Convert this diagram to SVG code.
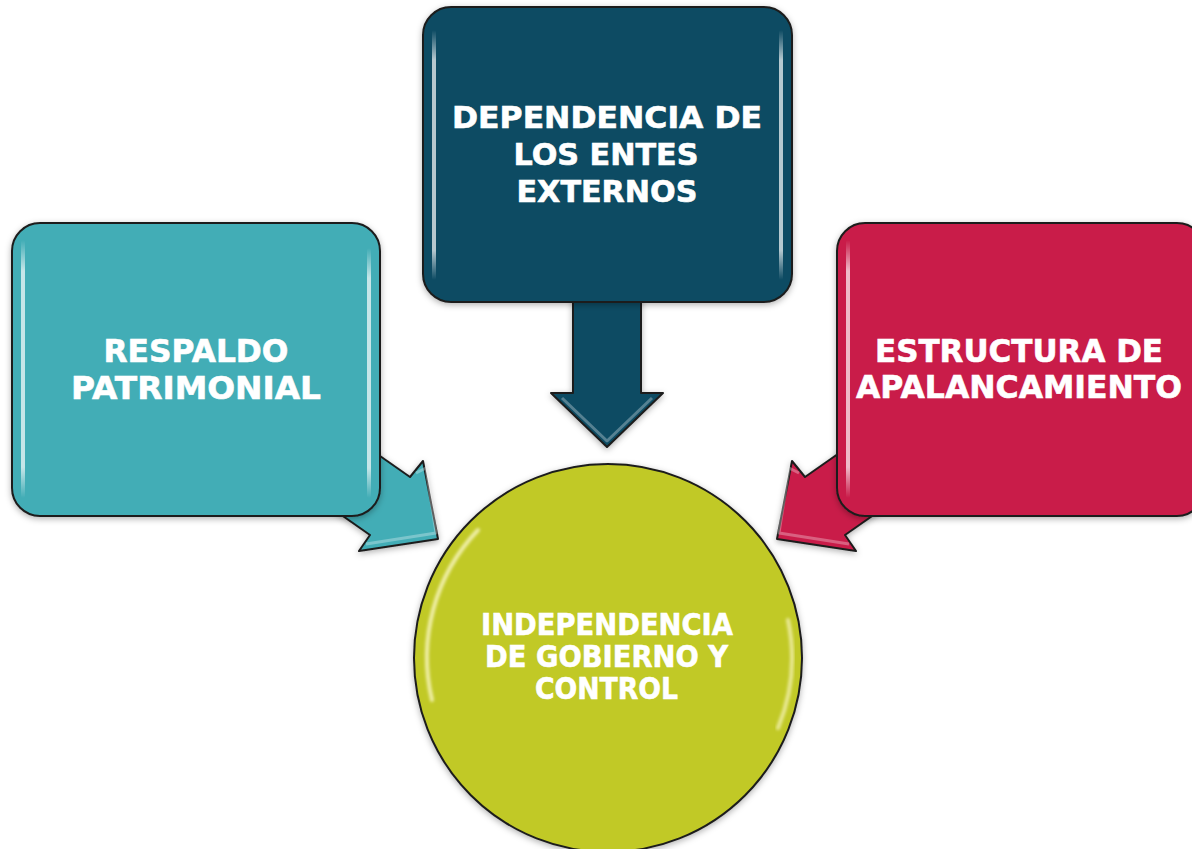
<svg xmlns="http://www.w3.org/2000/svg" width="1192" height="849" viewBox="0 0 1192 849">
  <defs>
    <filter id="shadow" x="-10%" y="-10%" width="120%" height="120%">
      <feDropShadow dx="0" dy="2" stdDeviation="3" flood-color="#000" flood-opacity="0.3"/>
    </filter>
    <filter id="glow" x="-20%" y="-20%" width="140%" height="140%">
      <feGaussianBlur stdDeviation="1.5"/>
    </filter>
    <linearGradient id="vstrip" x1="0" y1="0" x2="0" y2="1">
      <stop offset="0" stop-color="#fff" stop-opacity="0"/>
      <stop offset="0.12" stop-color="#fff" stop-opacity="0.7"/>
      <stop offset="0.88" stop-color="#fff" stop-opacity="0.7"/>
      <stop offset="1" stop-color="#fff" stop-opacity="0"/>
    </linearGradient>
  </defs>
  <style>
    .shape { stroke: #1c1c1c; stroke-width: 2; stroke-linejoin: round; filter: url(#shadow); }
    .teal { fill: #42ADB6; }
    .navy { fill: #0A4C63; }
    .crimson { fill: #C91B48; }
    .lime { fill: #C1C925; }
    .strip { fill: url(#vstrip); }
    .bevel { fill: none; stroke: #fff; stroke-opacity: 0.3; stroke-width: 3; stroke-linejoin: round; }
    .arc { fill: none; stroke: #fffbd0; stroke-width: 4; stroke-linecap: round; filter: url(#glow); }
    .lbl { font-family: "DejaVu Sans", Verdana, sans-serif; font-weight: bold; fill: #ffffff; stroke: #ffffff; stroke-width: 0.6; text-anchor: middle; }
    .f30 { font-size: 30px; }
    .f32 { font-size: 32px; }
  </style>
  <rect width="1192" height="849" fill="#ffffff"/>

  <g id="connectors">
    <g id="arrow-left">
      <polygon class="shape teal" points="330,421 410,477 423,461 438,539 359,551 370,535 290,479"/>
      <polyline class="bevel" points="416,473 426,468 436,533 366,544"/>
    </g>
    <g id="arrow-top">
      <polygon class="shape navy" points="573,290 641,290 641,393 663,393 607,447 551,393 573,393"/>
      <polyline class="bevel" points="562,398 607,441 652,398"/>
    </g>
    <g id="arrow-right">
      <polygon class="shape crimson" points="885,421 805,477 792,461 777,539 856,551 845,535 925,479"/>
      <polyline class="bevel" points="799,473 789,468 779,533 849,544"/>
    </g>
  </g>

  <g id="node-dependencia">
    <rect class="shape navy" x="423" y="7" width="369" height="295" rx="28"/>
    <rect class="strip" x="432" y="30" width="4" height="250" rx="2"/>
    <rect class="strip" x="779" y="30" width="4" height="250" rx="2"/>
    <text class="lbl f30" x="607" y="128" textLength="310" lengthAdjust="spacingAndGlyphs">DEPENDENCIA DE</text>
    <text class="lbl f30" x="606" y="165" textLength="185" lengthAdjust="spacingAndGlyphs">LOS ENTES</text>
    <text class="lbl f30" x="607" y="202" textLength="181" lengthAdjust="spacingAndGlyphs">EXTERNOS</text>
  </g>

  <g id="node-respaldo">
    <rect class="shape teal" x="12" y="223" width="368" height="293" rx="28"/>
    <rect class="strip" x="21" y="240" width="4" height="258" rx="2"/>
    <rect class="strip" x="367" y="248" width="4" height="250" rx="2"/>
    <text class="lbl f32" x="196" y="362" textLength="185" lengthAdjust="spacingAndGlyphs">RESPALDO</text>
    <text class="lbl f32" x="196" y="399" textLength="250" lengthAdjust="spacingAndGlyphs">PATRIMONIAL</text>
  </g>

  <g id="node-estructura">
    <rect class="shape crimson" x="837" y="223" width="368" height="293" rx="28"/>
    <rect class="strip" x="846" y="240" width="4" height="258" rx="2"/>
    <text class="lbl f32" x="1019" y="362" textLength="288" lengthAdjust="spacingAndGlyphs">ESTRUCTURA DE</text>
    <text class="lbl f32" x="1019" y="398" textLength="326" lengthAdjust="spacingAndGlyphs">APALANCAMIENTO</text>
  </g>

  <g id="node-independencia">
    <circle class="shape lime" cx="608" cy="658" r="194"/>
    <path class="arc" stroke-opacity="0.75" d="M 478 530 A 184 184 0 0 0 432 700"/>
    <path class="arc" stroke-opacity="0.65" d="M 788 620 A 184 184 0 0 1 778 728"/>
    <text class="lbl f30" x="607" y="635" textLength="252" lengthAdjust="spacingAndGlyphs">INDEPENDENCIA</text>
    <text class="lbl f30" x="606.5" y="667" textLength="243" lengthAdjust="spacingAndGlyphs">DE GOBIERNO Y</text>
    <text class="lbl f30" x="606.5" y="699" textLength="143" lengthAdjust="spacingAndGlyphs">CONTROL</text>
  </g>
</svg>
